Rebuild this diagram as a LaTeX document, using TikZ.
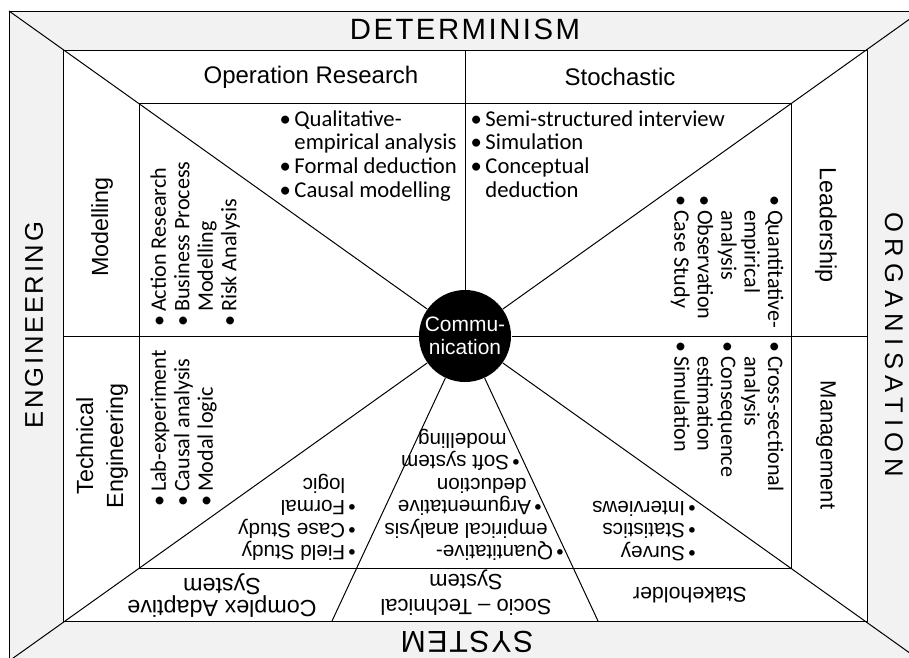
\documentclass[tikz,border=0pt]{standalone}
\usepackage{fontspec}
\setmainfont{Liberation Sans}
\newfontfamily\calfont{Carlito}
\newfontfamily\detfont[LetterSpace=8.5]{Liberation Sans}
\newfontfamily\engfont[LetterSpace=10.5]{Liberation Sans}
\newfontfamily\orgfont[LetterSpace=25]{Liberation Sans}
\newfontfamily\sysfont[LetterSpace=5.5]{Liberation Sans}
\definecolor{bandgray}{HTML}{F2F2F2}
\newcommand\bul{\makebox[0.66em][l]{•}}
\newcommand\ind{\hspace*{0.66em}}
\newcommand\abul{\makebox[0.5em][l]{•}}
\newcommand\aind{\hspace*{0.5em}}
\begin{document}
\begin{tikzpicture}[x=0.75pt,y=-0.75pt,line width=0.75pt,
  lab/.style={inner sep=0pt,align=center,font=\fontsize{17.5}{21}\selectfont},
  toplst/.style={inner sep=0pt,align=left,anchor=north west,font=\calfont\fontsize{17}{17.7}\selectfont},
  vlst/.style={inner sep=0pt,align=left,anchor=north west,font=\calfont\fontsize{16.6}{17.6}\selectfont},
  blst/.style={inner sep=0pt,align=left,anchor=north west,rotate=180,font=\fontsize{15.5}{16.8}\selectfont},
  big/.style={inner sep=0pt}]
\useasboundingbox (0,0) rectangle (909,657);
\clip (0,0) rectangle (909,657);
% frames
\filldraw[fill=bandgray] (9,11) rectangle (921,661);
\filldraw[fill=white] (63,50) rectangle (867,621);
\draw (139,103) rectangle (791,568);
% centre
\node[circle,fill=black,minimum size=69pt,inner sep=0pt,text=white,align=center,
      font=\fontsize{15.7}{17.5}\selectfont] (comm) at (465,336) {Commu-\\nication};
% connector end points
\coordinate (cTL) at (9,11);
\coordinate (cTR) at (921,11);
\coordinate (cBL) at (9,661);
\coordinate (cBR) at (921,661);
\coordinate (vTop) at (465,50);
\coordinate (hL) at (63,336);
\coordinate (hR) at (867,336);
\coordinate (bL) at (332,621);
\coordinate (bR) at (598,621);
\draw (comm) -- (cTL);
\draw (comm) -- (cTR);
\draw (comm) -- (cBL);
\draw (comm) -- (cBR);
\draw (comm) -- (vTop);
\draw (comm) -- (hL);
\draw (comm) -- (hR);
\draw (comm) -- (bL);
\draw (comm) -- (bR);
% outer labels
\node[big,font=\detfont\fontsize{22}{26}\selectfont] (det) at (465,29) {DETERMINISM};
\node[big,rotate=90,font=\engfont\fontsize{19.2}{23}\selectfont] (eng) at (34,325) {ENGINEERING};
\node[big,rotate=-90,font=\orgfont\fontsize{19.2}{23}\selectfont] (org) at (894,345) {ORGANISATION};
\node[big,rotate=180,font=\sysfont\fontsize{22.7}{26}\selectfont] (sys) at (467,642) {SYSTEM};
% middle band labels
\node[lab,font=\fontsize{18}{21}\selectfont] (opr) at (311,77) {Operation Research};
\node[lab,font=\fontsize{18}{21}\selectfont] (sto) at (620,77) {Stochastic};
\node[lab,rotate=90] (mod) at (102,227) {Modelling};
\node[lab,rotate=90,font=\fontsize{17.5}{22.5}\selectfont] (tech) at (102,446) {Technical\\Engineering};
\node[lab,rotate=-90] (lead) at (826,225) {Leadership};
\node[lab,rotate=-90,font=\fontsize{16.5}{20}\selectfont] (mgmt) at (826,445) {Management};
\node[lab,rotate=180,font=\fontsize{17.5}{16.5}\selectfont] (cas) at (222,596) {Complex Adaptive\\System};
\node[lab,rotate=180,font=\fontsize{16.5}{18.5}\selectfont] (sts) at (466,593) {Socio – Technical\\System};
\node[lab,rotate=180,font=\fontsize{16}{20}\selectfont] (stk) at (690,595) {Stakeholder};
% lists
\node[toplst] (l1) at (279,110) {\bul Qualitative-\\\ind empirical analysis\\\bul Formal deduction\\\bul Causal modelling};
\node[toplst] (l2) at (470,110) {\bul Semi-structured interview\\\bul Simulation\\\bul Conceptual\\\ind deduction};
\node[vlst,rotate=90] (l3) at (150,327) {\bul Action Research\\\bul Business Process\\\ind Modelling\\\bul Risk Analysis};
\node[vlst,rotate=90] (l5) at (150,507) {\bul Lab-experiment\\\bul Causal analysis\\\bul Modal logic};
\node[vlst,rotate=-90] (l4) at (784,195) {\bul Quantitative-\\\ind empirical\\\ind analysis\\\bul Observation\\\bul Case Study};
\node[vlst,rotate=-90] (l6) at (784,341) {\bul Cross-sectional\\\ind analysis\\\bul Consequence\\\ind estimation\\\bul Simulation};
\node[blst] (l7) at (356,561) {\abul Field Study\\\abul Case Study\\\abul Formal\\\aind logic};
\node[blst] (l8) at (564,561) {\abul Quantitative-\\\hspace*{12pt}empirical analysis\\\hspace*{16.5pt}\abul Argumentative\\\hspace*{27.75pt}deduction\\\hspace*{33pt}\abul Soft system\\\hspace*{42.75pt}modelling};
\node[blst] (l9) at (696,561) {\abul Survey\\\abul Statistics\\\abul Interviews};
\end{tikzpicture}
\end{document}
